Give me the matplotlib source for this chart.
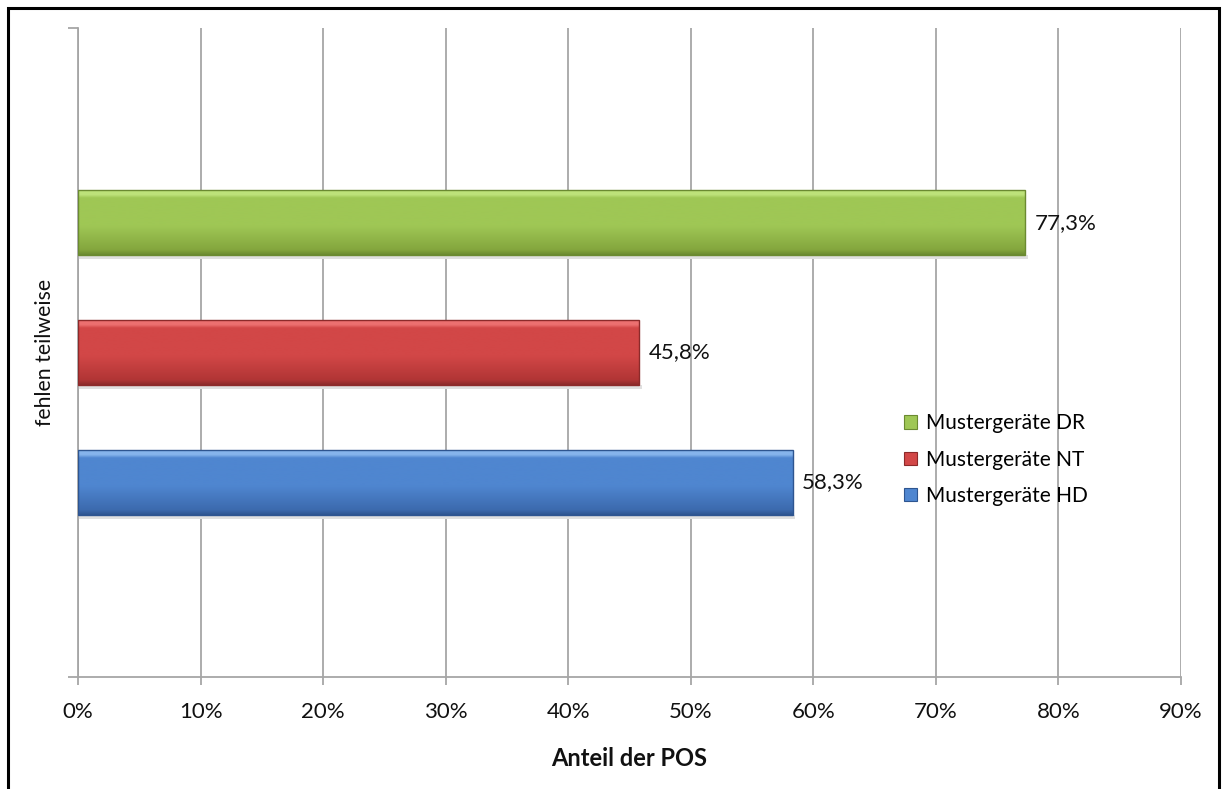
import numpy as np
import matplotlib
matplotlib.use("Agg")
import matplotlib.pyplot as plt
from matplotlib.colors import LinearSegmentedColormap
from matplotlib.patches import Rectangle

plt.rcParams['font.family'] = ['Lato', 'DejaVu Sans']

# --- data -------------------------------------------------------------
series = ["Mustergeräte HD", "Mustergeräte NT", "Mustergeräte DR"]
values = [58.3, 45.8, 77.3]               # Anteil in %
category = "fehlen teilweise"
x_ticks = [0, 10, 20, 30, 40, 50, 60, 70, 80, 90]
x_title = "Anteil der POS"

# gradient stops per series: highlight, upper body, lower body, edge
palettes = {
    "Mustergeräte HD": ["#86b4ec", "#4f86d0", "#3c6aae", "#2e5590"],
    "Mustergeräte NT": ["#ec7070", "#d24747", "#b13535", "#8c2a2a"],
    "Mustergeräte DR": ["#bde27a", "#9fc755", "#84a63d", "#6b8a31"],
}

fig = plt.figure(figsize=(12.25, 7.89), dpi=100)
ax = fig.add_axes([0.0637, 0.1420, 0.9004, 0.8225])

positions = np.arange(len(series))
bar_h = 0.5
bars = ax.barh(positions, values, height=bar_h,
               color=[palettes[s][1] for s in series],
               edgecolor=[palettes[s][3] for s in series],
               linewidth=1.0, zorder=3)

ax.set_xlim(0, 90)
ax.set_ylim(-1.5, 3.5)

# vertical shading over each bar, clipped to the bar itself
grad = np.linspace(0, 1, 256).reshape(-1, 1)
for rect, name in zip(bars, series):
    hl, up, lo, ed = palettes[name]
    cmap = LinearSegmentedColormap.from_list(
        name, [(0.0, hl), (0.07, hl), (0.12, up), (0.55, up), (0.92, lo), (1.0, ed)])
    x0, y0 = rect.get_x(), rect.get_y()
    w, h = rect.get_width(), rect.get_height()
    # soft shadow under the bar
    ax.add_patch(Rectangle((x0, y0 - 0.03), w + 0.2, 0.03,
                           facecolor="#e0e0e0", edgecolor="none", zorder=2))
    im = ax.imshow(grad, cmap=cmap, aspect="auto", origin="upper",
                   extent=(x0, x0 + w, y0, y0 + h), zorder=3.5)
    im.set_clip_path(rect)
    rect.set_facecolor("none")
    rect.set_zorder(4)

    ax.annotate(f"{rect.get_width():.1f}%".replace(".", ","),
                xy=(x0 + w, y0 + h / 2), xytext=(6.5, 0),
                textcoords="offset points", va="center", ha="left",
                fontsize=16, color="#111111", zorder=5)

# grid and axes
ax.set_xticks(x_ticks)
ax.set_xticklabels([f"{t}%" for t in x_ticks])
ax.xaxis.grid(True, color="#a6a6a6", linewidth=1.3, zorder=0)
ax.set_axisbelow(True)
ax.set_yticks([-1.5, 3.5])
ax.set_yticklabels([])
for side in ("top", "right"):
    ax.spines[side].set_visible(False)
for side in ("left", "bottom"):
    ax.spines[side].set_color("#a6a6a6")
    ax.spines[side].set_linewidth(1.3)
ax.tick_params(axis="x", direction="out", length=6, width=1.3, color="#a6a6a6",
               labelsize=16, pad=12, labelcolor="#111111")
ax.tick_params(axis="y", direction="out", length=7, width=1.3, color="#a6a6a6")

ax.set_xlabel(x_title, fontsize=17, fontweight="bold", labelpad=18, color="#111111")
ax.text(-0.030, 0.5, category, transform=ax.transAxes, rotation=90,
        ha="center", va="center", fontsize=15.3, color="#111111")

# legend (top entry first)
handles = []
for name in reversed(series):
    handles.append(Rectangle((0, 0), 1, 1, facecolor=palettes[name][1],
                             edgecolor=palettes[name][3], linewidth=0.8))
ax.legend(handles, list(reversed(series)), loc="upper left",
          bbox_to_anchor=(0.7416, 0.419), frameon=False, fontsize=15,
          handlelength=0.6, handleheight=0.6, handletextpad=0.45,
          labelspacing=0.78, borderaxespad=0)

# outer frame
fig.add_artist(Rectangle((8 / 1225, -0.05), (1219 - 8) / 1225, 1.05 - 8 / 789,
                         transform=fig.transFigure, fill=False,
                         edgecolor="black", linewidth=2.2))

fig.savefig("out.png", dpi=100, facecolor="white")
